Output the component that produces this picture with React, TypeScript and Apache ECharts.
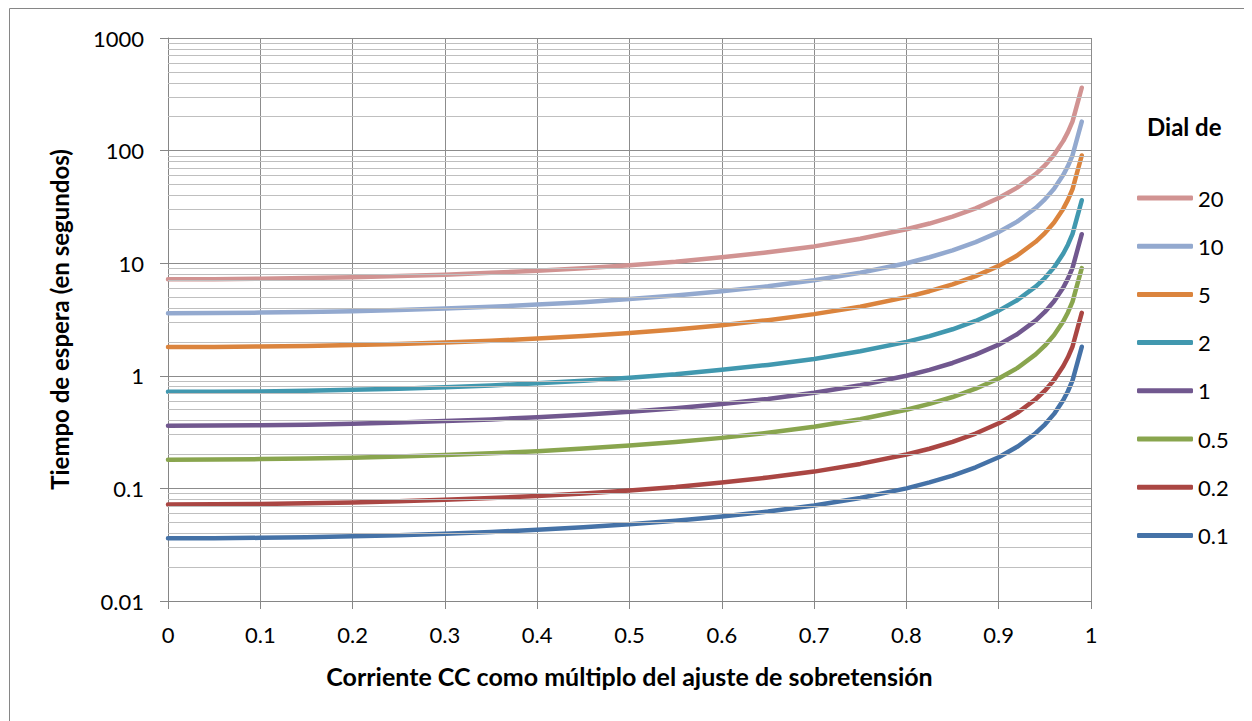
import { useEffect, useRef } from "react";
import * as echarts from "echarts";

// x: current as multiple of the overvoltage setting
const xValues = [0, 0.05, 0.1, 0.15, 0.2, 0.25, 0.3, 0.35, 0.4, 0.45, 0.5, 0.55, 0.6, 0.65, 0.7, 0.75, 0.8, 0.825, 0.85, 0.875, 0.9, 0.92, 0.94, 0.95, 0.96, 0.97, 0.975, 0.98, 0.99];

const dial20 = [7.2, 7.22, 7.27, 7.37, 7.5, 7.68, 7.91, 8.21, 8.57, 9.03, 9.6, 10.3, 11.3, 12.5, 14.1, 16.5, 20, 22.5, 25.9, 30.7, 37.9, 46.9, 61.9, 73.8, 91.8, 122, 146, 182, 362];
const dial10 = [3.6, 3.61, 3.64, 3.68, 3.75, 3.84, 3.96, 4.1, 4.29, 4.51, 4.8, 5.16, 5.63, 6.23, 7.06, 8.23, 10, 11.3, 13, 15.4, 18.9, 23.4, 30.9, 36.9, 45.9, 60.9, 72.9, 90.9, 181];
const dial5 = [1.8, 1.805, 1.82, 1.84, 1.875, 1.92, 1.98, 2.05, 2.14, 2.26, 2.4, 2.58, 2.81, 3.12, 3.53, 4.11, 5.0, 5.64, 6.48, 7.68, 9.47, 11.7, 15.5, 18.5, 23.0, 30.5, 36.5, 45.5, 90.5];
const dial2 = [0.72, 0.722, 0.727, 0.737, 0.75, 0.768, 0.791, 0.821, 0.857, 0.903, 0.96, 1.03, 1.13, 1.25, 1.41, 1.65, 2.0, 2.25, 2.59, 3.07, 3.79, 4.69, 6.19, 7.38, 9.18, 12.2, 14.6, 18.2, 36.2];
const dial1 = [0.36, 0.361, 0.364, 0.368, 0.375, 0.384, 0.396, 0.41, 0.429, 0.451, 0.48, 0.516, 0.563, 0.623, 0.706, 0.823, 1.0, 1.13, 1.3, 1.54, 1.89, 2.34, 3.09, 3.69, 4.59, 6.09, 7.29, 9.09, 18.1];
const dial05 = [0.18, 0.1805, 0.182, 0.184, 0.1875, 0.192, 0.198, 0.205, 0.214, 0.226, 0.24, 0.258, 0.281, 0.312, 0.353, 0.411, 0.5, 0.564, 0.648, 0.768, 0.947, 1.17, 1.55, 1.85, 2.3, 3.05, 3.65, 4.55, 9.05];
const dial02 = [0.072, 0.0722, 0.0727, 0.0737, 0.075, 0.0768, 0.0791, 0.0821, 0.0857, 0.0903, 0.096, 0.103, 0.113, 0.125, 0.141, 0.165, 0.2, 0.225, 0.259, 0.307, 0.379, 0.469, 0.619, 0.738, 0.918, 1.22, 1.46, 1.82, 3.62];
const dial01 = [0.036, 0.0361, 0.0364, 0.0368, 0.0375, 0.0384, 0.0396, 0.041, 0.0429, 0.0451, 0.048, 0.0516, 0.0563, 0.0623, 0.0706, 0.0823, 0.1, 0.113, 0.13, 0.154, 0.189, 0.234, 0.309, 0.369, 0.459, 0.609, 0.729, 0.909, 1.81];

const seriesNames = ["20", "10", "5", "2", "1", "0.5", "0.2", "0.1"];
const seriesValues = [dial20, dial10, dial5, dial2, dial1, dial05, dial02, dial01];
const seriesColors = ["#D19392", "#93A9CF", "#DB843D", "#4198AF", "#71588F", "#89A54E", "#AA4643", "#4572A7"];

// minor gridlines of the log axis (2..9 within each decade)
const decades = [0.01, 0.1, 1, 10, 100];
const minorMultipliers = [2, 3, 4, 5, 6, 7, 8, 9];

const FONT = "Lato, 'Open Sans', sans-serif";

export default function App() {
  const ref = useRef<HTMLDivElement>(null);
  useEffect(() => {
    if (!ref.current) return;
    const chart = echarts.init(ref.current, undefined, { renderer: "svg" });
    const minorLines: any[] = [];
    decades.forEach((d) => minorMultipliers.forEach((m) => minorLines.push({ yAxis: +(d * m).toPrecision(3) })));

    const series: any[] = [
      {
        name: "__grid",
        type: "line",
        data: [],
        silent: true,
        z: 1,
        markLine: {
          silent: true,
          symbol: ["none", "none"],
          label: { show: false },
          lineStyle: { color: "#BFBFBF", width: 1, type: "solid" },
          emphasis: { disabled: true },
          data: minorLines,
        },
      },
    ];
    seriesNames.forEach((name, i) => {
      series.push({
        name,
        type: "line",
        data: xValues.map((x, j) => [x, seriesValues[i][j]]),
        showSymbol: false,
        symbol: "none",
        z: 3,
        lineStyle: { color: seriesColors[i], width: 4.5, cap: "round", join: "round" },
        itemStyle: { color: seriesColors[i] },
      });
    });

    chart.setOption({
      animation: false,
      textStyle: { fontFamily: FONT },
      grid: { left: 160, top: 30, width: 923, height: 563, containLabel: false },
      xAxis: {
        type: "value",
        min: 0,
        max: 1,
        interval: 0.1,
        name: "Corriente CC como múltiplo del ajuste de sobretensión",
        nameLocation: "middle",
        nameGap: 62,
        nameTextStyle: { fontFamily: FONT, fontSize: 25, fontWeight: "bold", color: "#000" },
        axisLine: { show: true, lineStyle: { color: "#868686", width: 1 } },
        axisTick: { show: true, length: 8, inside: false, lineStyle: { color: "#868686" } },
        axisLabel: { margin: 22, fontFamily: FONT, fontSize: 22, color: "#000", formatter: (v: number) => String(+v.toFixed(1)) },
        splitLine: { show: true, lineStyle: { color: "#8C8C8C", width: 1 } },
      },
      yAxis: {
        type: "log",
        logBase: 10,
        min: 0.01,
        max: 1000,
        splitNumber: 5,
        name: "Tiempo de espera (en segundos)",
        nameLocation: "middle",
        nameGap: 97,
        nameTextStyle: { fontFamily: FONT, fontSize: 24, fontWeight: "bold", color: "#000" },
        axisLine: { show: true, lineStyle: { color: "#868686", width: 1 } },
        axisTick: { show: true, length: 8, inside: false, lineStyle: { color: "#868686" } },
        axisLabel: { margin: 24, fontFamily: FONT, fontSize: 22, color: "#000", formatter: (v: number) => String(+v.toPrecision(3)) },
        splitLine: { show: true, lineStyle: { color: "#8C8C8C", width: 1 } },
      },
      legend: {
        data: seriesNames,
        orient: "vertical",
        left: 1129,
        top: 178,
        padding: 0,
        icon: "roundRect",
        itemWidth: 56,
        itemHeight: 5,
        itemGap: 24.2,
        selectedMode: false,
        textStyle: { fontFamily: FONT, fontSize: 22, color: "#000", lineHeight: 24 },
      },
      graphic: [
        {
          type: "rect",
          silent: true,
          shape: { x: 1.5, y: 0.5, width: 3000, height: 3000 },
          style: { fill: "none", stroke: "#868686", lineWidth: 1 },
        },
        {
          type: "text",
          left: 1139,
          top: 106,
          style: { text: "Dial de", fontFamily: FONT, fontSize: 24, fontWeight: "bold", fill: "#000" },
        },
      ],
      series,
    });
    return () => chart.dispose();
  }, []);
  return <div ref={ref} style={{ width: 1244, height: 713 }} />;
}
